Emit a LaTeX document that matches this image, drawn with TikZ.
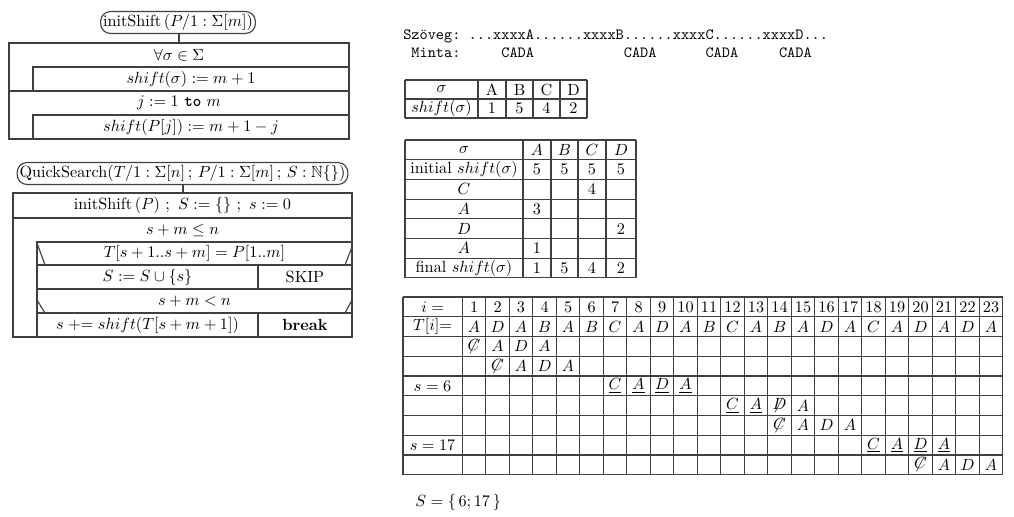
\documentclass[tikz,border=0pt]{standalone}
\usepackage{amsmath,amssymb}
\begin{document}
\begin{tikzpicture}[x=0.617pt,y=-0.617pt,
  line/.style={draw=black!75,line width=0.7pt},
  start/.style={draw=black!75,line width=0.7pt,rounded corners=6pt,inner xsep=1.5pt,inner ysep=0pt,minimum height=13.5pt},
  ttline/.style={anchor=base west,inner sep=0pt,font=\fontsize{9.6}{11}\selectfont\ttfamily}]
\useasboundingbox (0,0) rectangle (1014,517);
\node[start] (init) at (178,22.5) {initShift$\,(P/1:\Sigma[m])$};
\coordinate (itop) at (179,43);
\path[line] (init.south -| itop) -- (itop);
\path[line] (9,43) rectangle (349,139);
\path[line] (33,91) |- (349,67);
\path[line] (9,91) -- (349,91);
\path[line] (33,139) |- (349,115);
\node (forall) at (179,55) {$\forall\sigma\in\Sigma$};
\node (shinit) at (191,79) {$shift(\sigma):=m+1$};
\node (forj) at (179,103) {$j:=1$ {\ttfamily\fontseries{b}\selectfont to} $m$};
\node (shset) at (191,127) {$shift(P[j]):=m+1-j$};
\node[start] (qs) at (182.5,173.5) {QuickSearch$(T/1:\Sigma[n]\,;\,P/1:\Sigma[m]\,;\,S:\mathbb{N}\{\})$};
\coordinate (qtop) at (183,193);
\path[line] (qs.south -| qtop) -- (qtop);
\path[line] (13,193) rectangle (352,337);
\path[line] (13,218) -- (352,218);
\path[line] (37,337) |- (352,242);
\path[line] (37,265) -- (352,265);
\path[line] (37,289) -- (352,289);
\path[line] (37,313) -- (352,313);
\path[line] (258,265) -- (258,289);
\path[line] (258,313) -- (258,337);
\path[line] (37,243) -- (45,265);
\path[line] (352,247) -- (345,265);
\path[line] (37,300) -- (45,313);
\path[line] (352,300) -- (345,313);
\node (qinit) at (182.5,205.5) {initShift$\,(P)\ ;\ S:=\{\}\ ;\ s:=0$};
\node (qwhile) at (182.5,230) {$s+m\le n$};
\node (qif) at (194.5,253.5) {$T[s+1..s+m]=P[1..m]$};
\node (qadd) at (147.5,277) {$S:=S\cup\{s\}$};
\node (qskip) at (305,277) {SKIP};
\node (qif2) at (194.5,301) {$s+m<n$};
\node (qstep) at (147.5,325) {$s\mathrel{+}=shift(T[s+m+1])$};
\node (qbreak) at (305,325) {\textbf{break}};
\node[ttline] (szoveg) at (403,39.5) {Szöveg:~...xxxxA......xxxxB......xxxxC......xxxxD...};
\node[ttline] (minta) at (403,57.5) {~Minta:~~~~~CADA~~~~~~~~~~~CADA~~~~~~CADA~~~~~CADA};
\foreach \x in {405,478,506,533,560,587} \path[line] (\x,80) -- (\x,118);
\foreach \y in {80,99,118} \path[line] (405,\y) -- (587,\y);
\node (s1) at (441.5,89.5) {$\sigma$};
\node (s1a) at (492,89.5) {A};
\node (s1b) at (519.5,89.5) {B};
\node (s1c) at (546.5,89.5) {C};
\node (s1d) at (573.5,89.5) {D};
\node (h1) at (441.5,108.5) {$shift(\sigma)$};
\node (h1a) at (492,108.5) {1};
\node (h1b) at (519.5,108.5) {5};
\node (h1c) at (546.5,108.5) {4};
\node (h1d) at (573.5,108.5) {2};
\foreach \x in {405,523,551,578,606,636} \path[line] (\x,140) -- (\x,277.9);
\foreach \k in {0,...,7} \path[line] (405,140+19.7*\k) -- (636,140+19.7*\k);
\foreach \t [count=\k] in {$\sigma$,initial $shift(\sigma)$,$C$,$A$,$D$,$A$,final $shift(\sigma)$}
  \node (r\k) at (464,130.15+19.7*\k) {\t};
\foreach \c/\k/\t in {537/1/$A$,564.5/1/$B$,592/1/$C$,621/1/$D$,
  537/2/5,564.5/2/5,592/2/5,621/2/5,592/3/4,537/4/3,621/5/2,537/6/1,
  537/7/1,564.5/7/5,592/7/4,621/7/2}
  \node (v\k-\c) at (\c,130.15+19.7*\k) {\t};
\path[line] (403,297) -- (403,474.75);
\foreach \i in {0,...,23} {\pgfmathsetmacro\xx{462.3+23.5*\i}
  \path[line] (\xx,297) -- (\xx,474.75);}
\foreach \k in {0,...,9} \path[line] (403,297+19.75*\k) -- (1002.8,297+19.75*\k);
\foreach \i in {1,...,23} {\pgfmathsetmacro\xx{450.55+23.5*\i}
  \node (n\i) at (\xx,306.9) {\i};}
\foreach \t [count=\i] in {A,D,A,B,A,B,C,A,D,A,B,C,A,B,A,D,A,C,A,D,A,D,A} {\pgfmathsetmacro\xx{450.55+23.5*\i}
  \node (t\i) at (\xx,326.6) {$\t$};}
\node (li) at (432.6,306.9) {$i=$};
\node (lt) at (432.6,326.6) {$T[i]{=}$};
\node (ls6) at (432.6,385.9) {$s=6$};
\node (ls17) at (432.6,445.1) {$s=17$};
\foreach \c/\k/\t in {1/2/{{\not}C},2/2/A,3/2/D,4/2/A,
  2/3/{{\not}C},3/3/A,4/3/D,5/3/A,
  7/4/\underline{C},8/4/\underline{A},9/4/\underline{D},10/4/\underline{A},
  12/5/\underline{C},13/5/\underline{A},14/5/{{\not}D},15/5/A,
  14/6/{{\not}C},15/6/A,16/6/D,17/6/A,
  18/7/\underline{C},19/7/\underline{A},20/7/\underline{D},21/7/\underline{A},
  20/8/{{\not}C},21/8/A,22/8/D,23/8/A} {\pgfmathsetmacro\xx{450.55+23.5*\c}
  \node (m\k-\c) at (\xx,306.9+19.75*\k) {$\t$};}
\node[anchor=base west,inner sep=0pt] (res) at (415,506) {$S=\{\,6;17\,\}$};
\end{tikzpicture}
\end{document}
